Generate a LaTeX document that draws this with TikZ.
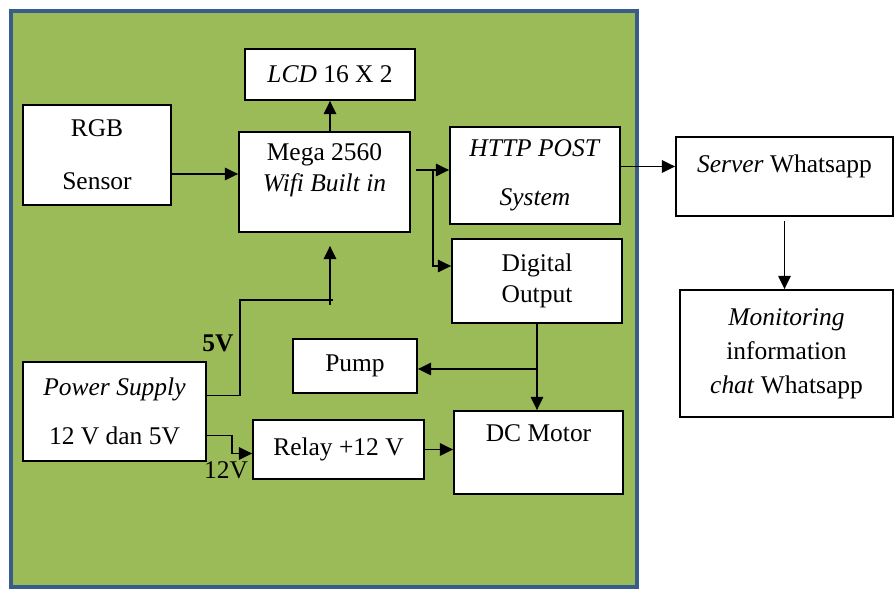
\documentclass[tikz,border=0pt]{standalone}
\usepackage{fontspec}
\setmainfont{Liberation Serif}
\usepackage{xcolor}
\usepackage{tikz}
\usetikzlibrary{calc,arrows.meta,positioning}
\definecolor{panelGreen}{RGB}{155,187,89}
\definecolor{panelBlue}{RGB}{56,93,138}

\begin{document}
\begin{tikzpicture}[x=0.02cm, y=-0.02cm,
  blok/.style={draw=black, fill=white, line width=1pt, inner sep=0pt, align=center},
  fnt/.style={font=\fontsize{14.5}{#1}\selectfont},
  arr/.style={line width=1pt, -{Triangle[length=7.5pt, width=7pt]}},
  wire/.style={line width=1pt}]
\useasboundingbox (0,0) rectangle (894,590);
\draw[panelBlue, line width=2.3pt, fill=panelGreen] (11,11) rectangle (637,587);
% blocks
\node[blok, fnt=17pt, minimum width=3.4cm, minimum height=1.02cm] (lcd) at (330,74.5) {\textit{LCD} 16 X 2};
\node[blok, fnt=30pt, minimum width=2.96cm, minimum height=2cm] (rgb) at (97,155) {RGB\\Sensor};
\node[blok, fnt=18pt, minimum width=3.42cm, minimum height=2cm, text height=28pt, text depth=16.7pt] (mega) at (324.5,182) {Mega 2560\\\textit{Wifi Built in}};
\node[blok, fnt=28pt, minimum width=3.4cm, minimum height=1.94cm] (http) at (535,175.5) {\textit{HTTP POST}\\\textit{System}};
\node[blok, fnt=17.6pt, minimum width=3.4cm, minimum height=1.68cm] (dout) at (537,281) {Digital\\Output};
\node[blok, fnt=17pt, minimum width=4.34cm, minimum height=1.58cm, text height=10pt, text depth=15pt] (server) at (784.5,176.5) {\textit{Server} Whatsapp};
\node[blok, fnt=19.3pt, minimum width=4.26cm, minimum height=2.54cm] (mon) at (786.5,353.5) {\textit{Monitoring}\\information\\\textit{chat} Whatsapp};
\node[blok, fnt=17pt, minimum width=2.48cm, minimum height=1.08cm] (pump) at (355,366) {Pump};
\node[blok, fnt=28pt, minimum width=3.66cm, minimum height=1.98cm] (ps) at (114.5,411.5) {\textit{Power Supply}\\12 V dan 5V};
\node[blok, fnt=17pt, minimum width=3.42cm, minimum height=1.18cm] (relay) at (338.5,449.5) {Relay +12 V};
\node[blok, fnt=17pt, minimum width=3.38cm, minimum height=1.66cm, text height=10pt, text depth=23pt] (dc) at (538.5,452.5) {DC Motor};
\node[fnt=17pt, inner sep=0pt] (v5) at (218,343) {\textbf{5V}};
\node[fnt=17pt, inner sep=0pt] (v12) at (226,470) {12V};
% connections
\coordinate (split) at (433,170);
\coordinate (tap5) at (330,300);
\draw[arr] ($(rgb.east)+(0,19)$) -- ($(mega.west)+(0,-8)$);
\draw[arr] (lcd.south |- mega.north) -- (lcd.south);
\draw[wire] ($(mega.east)+(5,-12)$) -- (split);
\draw[arr] (split) -- (split -| http.west);
\draw[arr] (split) |- ($(dout.west)+(0,-15)$);
\coordinate (hout) at ($(http.east)+(0,-9)$);
\draw[arr] (hout) -- (hout -| server.west);
\draw[arr] ($(server.south)+(0,4)$) -- (server.south |- mon.north);
\draw[wire] ($(ps.east)+(0,-16)$) -| ($(tap5)+(-90,0)$) -- ($(tap5)+(3,0)$);
\draw[arr] ($(tap5)+(0,5)$) -- ($(tap5 |- mega.south)+(0,13)$);
\draw[arr] ($(ps.east)+(0,24)$) -| ($(relay.west)+(-20,4)$) -- ($(relay.west)+(0,4)$);
\draw[arr] (relay.east) -- (relay.east -| dc.west);
\draw[arr] (dout.south) -- (dout.south |- dc.north);
\draw[arr] ($(dout.south |- pump.east)+(0,3)$) -- ($(pump.east)+(0,3)$);
\end{tikzpicture}
\end{document}
